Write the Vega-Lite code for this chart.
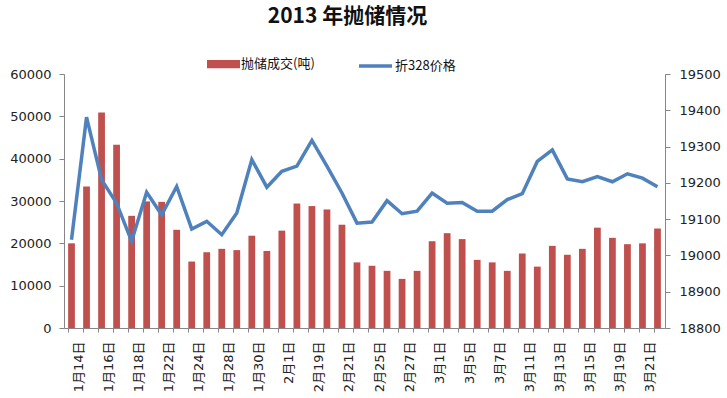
{
  "$schema": "https://vega.github.io/schema/vega-lite/v6.json",
  "width": 601,
  "height": 254,
  "autosize": "none",
  "padding": {"left": 64, "top": 74, "right": 62, "bottom": 70},
  "background": "white",
  "title": {
    "text": "2013 年抛储情况",
    "font": "Noto Sans CJK SC",
    "fontSize": 21,
    "fontWeight": "bold",
    "color": "#111",
    "anchor": "middle",
    "dx": -17,
    "offset": 21
  },
  "config": {
    "view": {"stroke": null},
    "axis": {
      "grid": false,
      "domainColor": "#868686",
      "tickColor": "#868686",
      "labelColor": "#222",
      "labelFont": "DejaVu Sans",
      "labelFontSize": 13,
      "title": null
    },
    "legend": {"padding": 0}
  },
  "data": {
    "values": [
      {"date": "1月14日", "tons": 20000, "price": 19043},
      {"date": "1月15日", "tons": 33400, "price": 19381},
      {"date": "1月16日", "tons": 50900, "price": 19209},
      {"date": "1月17日", "tons": 43300, "price": 19144},
      {"date": "1月18日", "tons": 26500, "price": 19039},
      {"date": "1月21日", "tons": 29900, "price": 19174},
      {"date": "1月22日", "tons": 29800, "price": 19112},
      {"date": "1月23日", "tons": 23200, "price": 19190},
      {"date": "1月24日", "tons": 15700, "price": 19073},
      {"date": "1月25日", "tons": 17900, "price": 19094},
      {"date": "1月28日", "tons": 18700, "price": 19057},
      {"date": "1月29日", "tons": 18400, "price": 19117},
      {"date": "1月30日", "tons": 21800, "price": 19264},
      {"date": "1月31日", "tons": 18200, "price": 19188},
      {"date": "2月1日", "tons": 23000, "price": 19232},
      {"date": "2月18日", "tons": 29400, "price": 19246},
      {"date": "2月19日", "tons": 28800, "price": 19317},
      {"date": "2月20日", "tons": 28000, "price": 19246},
      {"date": "2月21日", "tons": 24400, "price": 19172},
      {"date": "2月22日", "tons": 15500, "price": 19089},
      {"date": "2月25日", "tons": 14700, "price": 19092},
      {"date": "2月26日", "tons": 13500, "price": 19151},
      {"date": "2月27日", "tons": 11600, "price": 19115},
      {"date": "2月28日", "tons": 13500, "price": 19122},
      {"date": "3月1日", "tons": 20500, "price": 19172},
      {"date": "3月4日", "tons": 22400, "price": 19144},
      {"date": "3月5日", "tons": 21000, "price": 19146},
      {"date": "3月6日", "tons": 16100, "price": 19122},
      {"date": "3月7日", "tons": 15500, "price": 19122},
      {"date": "3月8日", "tons": 13500, "price": 19154},
      {"date": "3月11日", "tons": 17600, "price": 19170},
      {"date": "3月12日", "tons": 14500, "price": 19259},
      {"date": "3月13日", "tons": 19400, "price": 19291},
      {"date": "3月14日", "tons": 17300, "price": 19211},
      {"date": "3月15日", "tons": 18700, "price": 19203},
      {"date": "3月18日", "tons": 23700, "price": 19217},
      {"date": "3月19日", "tons": 21300, "price": 19203},
      {"date": "3月20日", "tons": 19800, "price": 19225},
      {"date": "3月21日", "tons": 20000, "price": 19213},
      {"date": "3月22日", "tons": 23500, "price": 19189}
    ]
  },
  "encoding": {
    "x": {
      "field": "date",
      "type": "nominal",
      "sort": null,
      "scale": {"paddingInner": 0.55, "paddingOuter": 0.275},
      "axis": {
        "labelAngle": -90,
        "labelFont": "DejaVu Sans, Noto Sans CJK SC",
        "labelFontSize": 13,
        "labelOverlap": false,
        "bandPosition": 0,
        "labelOffset": 7.5,
        "tickSize": 4,
        "labelPadding": 9,
        "labelExpr": "indexof(['1月14日','1月16日','1月18日','1月22日','1月24日','1月28日','1月30日','2月1日','2月19日','2月21日','2月25日','2月27日','3月1日','3月5日','3月7日','3月11日','3月13日','3月15日','3月19日','3月21日'], datum.value) >= 0 ? datum.label : ''"
      }
    }
  },
  "layer": [
    {
      "mark": {"type": "bar", "color": "#C0504D"},
      "encoding": {
        "y": {
          "field": "tons",
          "type": "quantitative",
          "scale": {"domain": [0, 60000], "nice": false},
          "axis": {"values": [0, 10000, 20000, 30000, 40000, 50000, 60000], "format": "d", "tickSize": 5, "labelPadding": 8, "orient": "left"}
        },
        "color": {
          "datum": "抛储成交(吨)",
          "scale": {"range": ["#C0504D"]},
          "legend": {
            "orient": "none",
            "legendX": 143,
            "legendY": -26.5,
            "title": null,
            "symbolType": "M-1,-0.25H1V0.25H-1Z",
            "symbolSize": 1089,
            "symbolStrokeWidth": 0,
            "symbolOpacity": 1,
            "labelOffset": 1,
            "labelFont": "Noto Sans CJK SC",
            "labelFontSize": 13,
            "labelColor": "#111"
          }
        }
      }
    },
    {
      "mark": {"type": "line", "strokeWidth": 3.5, "color": "#4F81BD"},
      "encoding": {
        "y": {
          "field": "price",
          "type": "quantitative",
          "scale": {"domain": [18800, 19500], "nice": false, "zero": false},
          "axis": {"values": [18800, 18900, 19000, 19100, 19200, 19300, 19400, 19500], "format": "d", "tickSize": 5, "labelPadding": 9, "orient": "right"}
        },
        "color": {
          "datum": "折328价格",
          "scale": {"range": ["#4F81BD"]},
          "legend": {
            "orient": "none",
            "legendX": 293,
            "legendY": -26.5,
            "title": null,
            "symbolType": "stroke",
            "symbolSize": 1089,
            "symbolStrokeWidth": 3.5,
            "labelOffset": 1,
            "labelFont": "Noto Sans CJK SC",
            "labelFontSize": 13,
            "labelColor": "#111"
          }
        }
      }
    }
  ],
  "resolve": {"scale": {"y": "independent", "color": "independent"}}
}
